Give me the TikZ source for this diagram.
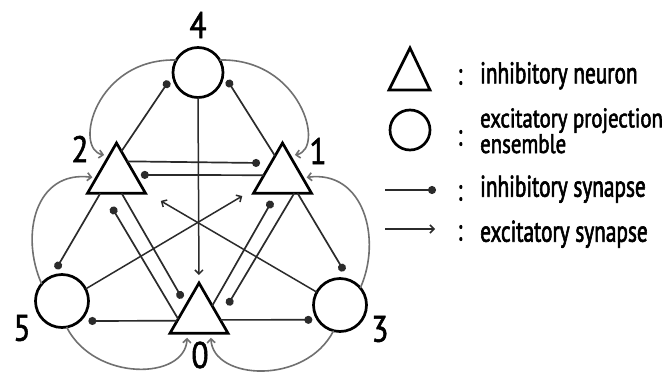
\documentclass[tikz,border=0pt]{standalone}
\usepackage{fontspec}
\usetikzlibrary{shapes.geometric,arrows.meta}
\newfontfamily\lblfont[FakeStretch=0.71,FakeBold=2]{PT Sans}
\newfontfamily\lblnarrow[FakeStretch=0.77,FakeBold=2]{PT Sans}
\newfontfamily\digfont[FakeStretch=0.85,FakeBold=1.5]{PT Sans}
\definecolor{lineC}{HTML}{2B2B2B}
\definecolor{curveC}{HTML}{707070}
\tikzset{
  nb/.style={draw=black, line width=2.7pt, fill=white, inner sep=0pt, outer sep=0pt},
  exens/.style={nb, circle, minimum size=50pt},
  inhn/.style={nb, regular polygon, regular polygon sides=3, minimum size=67pt},
  inh/.style={line width=1.7pt, draw=lineC, -{Circle[length=8pt]}},
  exc/.style={line width=1.5pt, draw=lineC, -{Straight Barb[length=4pt,width=8pt]}},
  cur/.style={line width=1.6pt, draw=curveC, -{Straight Barb[length=4pt,width=8pt]}},
  lab/.style={font=\digfont\fontsize{37}{37}\selectfont, inner sep=0pt},
  ltext/.style={font=\lblfont\fontsize{30}{30}\selectfont, anchor=base west, inner sep=0pt},
  lnarrow/.style={font=\lblnarrow\fontsize{27}{24}\selectfont, anchor=base west, inner sep=0pt, align=left},
  lcolon/.style={font=\lblfont\fontsize{30}{30}\selectfont, inner sep=0pt},
}
\begin{document}
\begin{tikzpicture}[x=1pt,y=1pt]
\useasboundingbox (0,0) rectangle (668,376);
\fill[white] (0,0) rectangle (668,376);
% nodes
\node[exens] (c4) at (198,303.5) {};
\node[inhn] (t2) at (116.5,199.5) {};
\node[inhn] (t1) at (282.5,199.5) {};
\node[inhn] (t0) at (199,59.5) {};
\node[exens, minimum size=53pt] (c5) at (62,75) {};
\node[exens, minimum size=53pt] (c3) at (340,71) {};
% labels
\node[lab] (l4) at (198,351) {4};
\node[lab] (l2) at (80,227) {2};
\node[lab] (l1) at (318,225) {1};
\node[lab] (l5) at (22,48) {5};
\node[lab] (l3) at (380,47) {3};
\node[lab] (l0) at (200,21) {0};
% inhibitory synapses
\draw[inh, shorten >=7.5pt] (t2.79) -- (c4.185);
\draw[inh, shorten >=8pt] (t1.110) -- (c4.358);
\draw[inh, shorten >=10.8pt] (t2.55) -- (t1.131);
\draw[inh, shorten >=5.9pt] (t1.176) -- (t2.5);
\draw[inh, shorten >=8.8pt] (t2.226) -- (c5.113);
\draw[inh, shorten >=10.7pt] (t1.312) -- (c3.69);
\draw[inh, shorten >=8pt] (t2.287) -- (t0.139);
\draw[inh, shorten >=16pt] (t0.187) -- (t2.232);
\draw[inh, shorten >=15.7pt] (t1.305) -- (t0.354);
\draw[inh, shorten >=9pt] (t0.39) -- (t1.250);
\draw[inh, shorten >=9pt] (t0.191) -- (c5.311);
\draw[inh, shorten >=5.7pt] (t0.351) -- (c3.214);
% excitatory straight
\draw[exc, shorten >=8pt] (c4.south) -- (t0.corner 1);
\draw[exc, shorten >=17pt] (c5.27) -- (t1.203);
\draw[exc, shorten >=19pt] (c3.151) -- (t2.332);
% excitatory curved
\draw[cur, shorten >=5pt] (c4.150) .. controls +(-81,2) and +(-36,7) .. (t2.110);
\draw[cur, shorten >=5pt] (c4.30) .. controls +(81,2) and +(36,7) .. (t1.70);
\draw[cur, shorten >=4pt] (c5.140) .. controls +(-22,49) and +(-61,8) .. (t2.184);
\draw[cur, shorten >=4pt] (c3.40) .. controls +(22,49) and +(61,8) .. (t1.356);
\draw[cur, shorten >=4.5pt] (c5.280) .. controls +(28,-55) and +(-2,-47) .. (t0.235);
\draw[cur, shorten >=4.5pt] (c3.256) .. controls +(-28,-55) and +(2,-47) .. (t0.305);
% legend
\draw[line width=2.7pt, line join=miter] (389,286) -- (410,328) -- (430,286) -- cycle;
\node[exens, minimum size=40pt] (lgc) at (410,246) {};
\coordinate (li1) at (385,186);
\coordinate (li2) at (436,186);
\coordinate (le1) at (385,147);
\coordinate (le2) at (435,147);
\draw[inh] (li1) -- (li2);
\draw[exc] (le1) -- (le2);
\node[lcolon] (k1) at (460,299) {:};
\node[lcolon] (k2) at (460,238) {:};
\node[lcolon] (k3) at (460,183) {:};
\node[lcolon] (k4) at (460,143) {:};
\node[ltext] (tx1) at (480,292.7) {inhibitory neuron};
\node[lnarrow] (tx2) at (480,223) {excitatory projection\\ensemble};
\node[ltext] (tx4) at (480,179.3) {inhibitory synapse};
\node[ltext] (tx5) at (480,134.3) {excitatory synapse};
\end{tikzpicture}
\end{document}
